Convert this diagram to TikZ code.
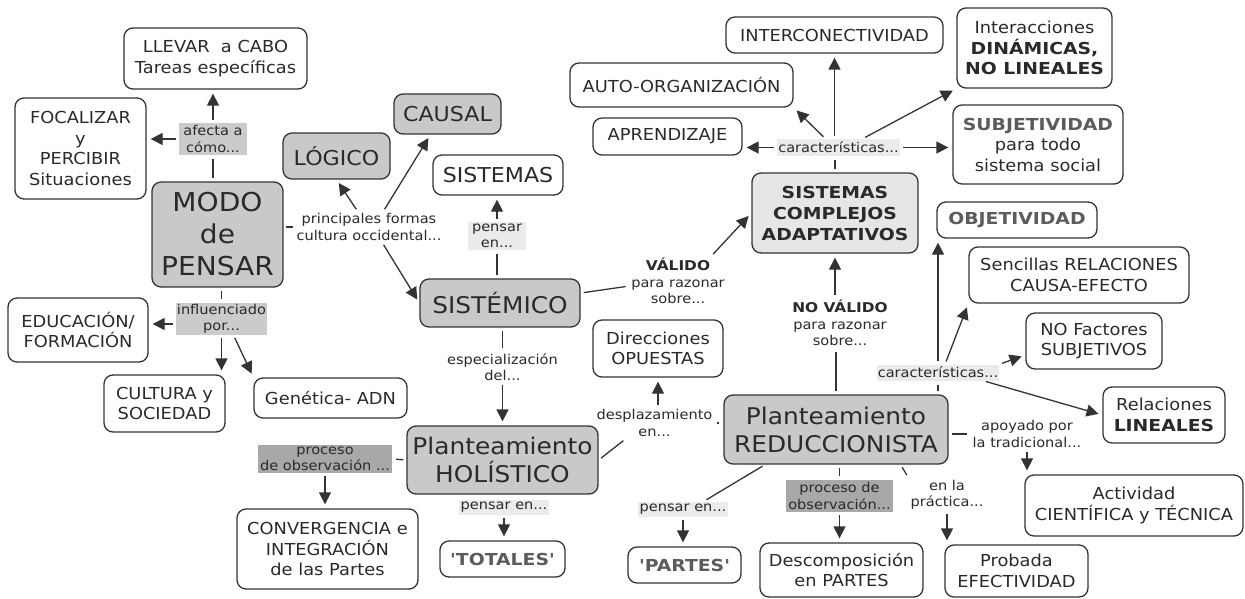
\documentclass[tikz,border=0pt]{standalone}
\usepackage{fontspec}
\setmainfont{DejaVu Sans}[FakeStretch=1.08, BoldFeatures={FakeStretch=1.14}]
\newfontfamily\rawfont{DejaVu Sans}[FakeStretch=1.08, BoldFeatures={FakeStretch=1.14}]
\usetikzlibrary{arrows.meta}
\definecolor{linec}{HTML}{333333}
\definecolor{txt}{HTML}{2A2A2A}
\definecolor{nodegray}{HTML}{C9C9C9}
\definecolor{scagray}{HTML}{E6E6E6}
\definecolor{lablight}{HTML}{EBEBEB}
\definecolor{labmid}{HTML}{CBCBCB}
\definecolor{labdark}{HTML}{A8A8A8}
\definecolor{bgray}{HTML}{5C5C5C}
\tikzset{
  box/.style={draw=linec, line width=1.3pt, rounded corners=9pt, fill=white, align=center, text=txt, inner sep=0pt, font=\fontsize{16.5}{20.5}\selectfont},
  gbox/.style={box, fill=nodegray},
  lab/.style={align=center, text=txt, inner sep=1.5pt, font=\fontsize{13.5}{16.5}\selectfont},
  lk/.style={draw=linec, line width=1.3pt, shorten <=3pt, shorten >=4pt},
  arr/.style={lk, -{Triangle[length=12pt,width=12pt]}},
  f19/.style={font=\fontsize{20.5}{24}\selectfont},
  f23/.style={font=\fontsize{23}{28}\selectfont},
  f26/.style={font=\fontsize{26}{32}\selectfont},
}
\newcommand{\bg}[1]{\textcolor{bgray}{\textbf{#1}}}
\begin{document}
\begin{tikzpicture}[x=1pt,y=-1pt]
\useasboundingbox (0,0) rectangle (1245,599);
% left part
\node[box, minimum width=183pt, minimum height=61pt] (llevar) at (215.5,58.5) {LLEVAR\ \ a CABO\\Tareas específicas};
\node[box, minimum width=131pt, minimum height=101pt] (focal) at (80.5,148.5) {FOCALIZAR\\y\\PERCIBIR\\Situaciones};
\node[lab, fill=labmid, minimum width=68pt, minimum height=32pt, inner sep=0pt] (afecta) at (213,139) {afecta a\\cómo...};
\node[gbox, f26, minimum width=131pt, minimum height=105pt] (modo) at (217.5,234.5) {MODO\\de\\PENSAR};
\node[gbox, f19, minimum width=107pt, minimum height=46pt] (logico) at (336.5,156) {LÓGICO};
\node[gbox, f19, minimum width=107pt, minimum height=40pt] (causal) at (447.5,114) {CAUSAL};
\node[lab] (princ) at (369,227) {principales formas\\cultura occidental...};
\node[box, f19, minimum width=130pt, minimum height=40pt] (sistemas) at (498,175) {SISTEMAS};
\node[lab, fill=lablight, minimum width=58pt, minimum height=28pt, inner sep=0pt] (pensar1) at (497,236) {pensar\\en...};
\node[gbox, f23, minimum width=160pt, minimum height=48pt] (sistemico) at (500,303) {SISTÉMICO};
\node[lab] (valido) at (678,281) {\textbf{VÁLIDO}\\para razonar\\sobre...};
\node[box, fill=scagray, minimum width=166pt, minimum height=80pt, font=\bfseries\fontsize{16.5}{21}\selectfont] (sca) at (835,213) {SISTEMAS\\COMPLEJOS\\ADAPTATIVOS};
\node[lab] (noval) at (840,323) {\textbf{NO VÁLIDO}\\para razonar\\sobre...};
% top right
\node[box, minimum width=217pt, minimum height=36pt] (interc) at (834.5,35) {INTERCONECTIVIDAD};
\node[box, minimum width=223pt, minimum height=44pt] (autoorg) at (681.5,85) {AUTO-ORGANIZACIÓN};
\node[box, minimum width=149pt, minimum height=37pt] (aprend) at (667.5,136.5) {APRENDIZAJE};
\node[lab, fill=lablight, minimum width=123pt, minimum height=17pt, inner sep=0pt] (car1) at (838.5,147.5) {características...};
\node[box, minimum width=155pt, minimum height=80pt] (interacc) at (1034.5,48) {Interacciones\\\textbf{DINÁMICAS,}\\\textbf{NO LINEALES}};
\node[box, minimum width=170pt, minimum height=79pt] (subjet) at (1038,144.5) {\bg{SUBJETIVIDAD}\\para todo\\sistema social};
\node[box, minimum width=160pt, minimum height=36pt] (objet) at (1017,220) {\bg{OBJETIVIDAD}};
\node[box, minimum width=220pt, minimum height=56pt] (sencillas) at (1079,275) {Sencillas RELACIONES\\CAUSA-EFECTO};
\node[box, minimum width=136pt, minimum height=56pt] (nofact) at (1094,341) {NO Factores\\SUBJETIVOS};
\node[box, minimum width=122pt, minimum height=56pt] (relac) at (1164,415) {Relaciones\\\textbf{LINEALES}};
\node[lab, fill=lablight, minimum width=122pt, minimum height=16pt, inner sep=0pt] (car2) at (938,372.5) {características...};
% reduccionista
\node[gbox, f23, minimum width=224pt, minimum height=69pt] (reduc) at (836,429.5) {Planteamiento\\REDUCCIONISTA};
\node[lab] (apoyado) at (1027,434) {apoyado por\\la tradicional...};
\node[box, minimum width=218pt, minimum height=61pt] (activ) at (1134,505.5) {Actividad\\CIENTÍFICA y TÉCNICA};
\node[lab] (practica) at (947,495) {en la\\práctica...};
\node[box, minimum width=143pt, minimum height=52pt] (probada) at (1016.5,571) {Probada\\EFECTIVIDAD};
\node[lab, fill=labdark, minimum width=107pt, minimum height=32pt, inner sep=0pt] (proc2) at (839.5,496) {proceso de\\observación...};
\node[box, minimum width=163pt, minimum height=54pt] (descomp) at (841.5,570) {Descomposición\\en PARTES};
\node[lab, fill=lablight, minimum width=90pt, minimum height=15pt, inner sep=0pt] (pensar3) at (683,509.5) {pensar en...};
\node[box, minimum width=113pt, minimum height=36pt] (partes) at (684.5,565) {\rawfont\bg{'PARTES'}};
% holistico
\node[gbox, f23, minimum width=191pt, minimum height=68pt] (holis) at (502.5,460) {Planteamiento\\HOLÍSTICO};
\node[lab] (espec) at (502.5,367) {especialización\\del...};
\node[lab] (desplaz) at (654.5,423) {desplazamiento\\en...};
\node[box, minimum width=130pt, minimum height=57pt] (direcc) at (658,348.5) {Direcciones\\OPUESTAS};
\node[lab, fill=lablight, minimum width=90pt, minimum height=15pt, inner sep=0pt] (pensar2) at (504,507.5) {pensar en...};
\node[box, minimum width=125pt, minimum height=36pt] (totales) at (502.5,559) {\rawfont\bg{'TOTALES'}};
% bottom left
\node[lab, fill=labmid, minimum width=91pt, minimum height=32pt, inner sep=0pt] (influ) at (221.5,319) {influenciado\\por...};
\node[box, minimum width=140pt, minimum height=64pt] (educ) at (78,330) {EDUCACIÓN/\\FORMACIÓN};
\node[box, minimum width=121pt, minimum height=57pt] (cultura) at (164.5,403.5) {CULTURA y\\SOCIEDAD};
\node[box, minimum width=153pt, minimum height=40pt] (genet) at (330.5,398) {Genética- ADN};
\node[lab, fill=labdark, minimum width=134pt, minimum height=28pt, inner sep=0pt] (proc1) at (325,459) {proceso\\de observación ...};
\node[box, minimum width=181pt, minimum height=80pt] (converg) at (327.5,549) {CONVERGENCIA e\\INTEGRACIÓN\\de las Partes};
% connectors
\draw[lk] (modo.north -| afecta.south) -- (afecta.south);
\draw[arr] (afecta.north) -- (afecta.north |- llevar.south);
\draw[arr] (afecta.west) -- (afecta.west -| focal.east);
\draw[lk, shorten <=2pt, shorten >=2pt] (princ.west -| modo.east) -- (princ.west);
\draw[arr] ([xshift=-11pt]princ.north) -- (logico.south);
\draw[arr] ([xshift=14pt]princ.north) -- ([xshift=-17pt]causal.south);
\draw[arr] ([xshift=13pt]princ.south) -- (sistemico.west);
\draw[lk] (pensar1.south |- sistemico.north) -- (pensar1.south);
\draw[arr] (pensar1.north) -- (pensar1.north |- sistemas.south);
\draw[lk] ([yshift=10pt]sistemico.east) -- ([yshift=-5pt]valido.west);
\draw[arr] ([xshift=33pt]valido.north) -- (sca.west);
\draw[lk] (reduc.north) -- (reduc.north |- noval.south);
\draw[arr] (sca.south |- noval.north) -- (sca.south);
\draw[lk] (sca.north) -- (sca.north |- car1.south);
\draw[arr] (car1.west) -- (car1.west -| aprend.east);
\draw[arr] ([xshift=-13pt]car1.north) -- (autoorg.south east);
\draw[arr] (car1.north -| interc.south) -- (interc.south);
\draw[arr] ([xshift=24pt]car1.north) -- (interacc.south west);
\draw[arr] (car1.east) -- (car1.east -| subjet.west);
\draw[lk] (car2.south |- reduc.north) -- (car2.south);
\draw[arr] (car2.north) -- (car2.north |- objet.south);
\draw[arr] ([xshift=7pt]car2.north) -- (sencillas.south west);
\draw[arr] (car2.north east) -- ([yshift=-14pt]nofact.west);
\draw[arr] ([xshift=45pt]car2.south) -- (relac.west);
\draw[lk] (apoyado.west -| reduc.east) -- (apoyado.west);
\draw[arr] (apoyado.south) -- (apoyado.south |- activ.north);
\draw[lk] ([xshift=-48pt]reduc.south east) -- (practica.north west);
\draw[arr] (practica.south) -- (practica.south |- probada.north);
\draw[lk] (proc2.north |- reduc.south) -- (proc2.north);
\draw[arr] (proc2.south) -- (proc2.south |- descomp.north);
\draw[lk] ([xshift=-71pt]reduc.south) -- ([xshift=20pt]pensar3.north);
\draw[arr] (pensar3.south) -- (pensar3.south |- partes.north);
\draw[lk] (espec.north |- sistemico.south) -- (espec.north);
\draw[arr] (espec.south) -- (espec.south |- holis.north);
\draw[lk] (holis.east) -- ([xshift=-28pt]desplaz.south);
\draw[lk] (desplaz.east) -- (desplaz.east -| reduc.west);
\draw[arr] (direcc.south |- desplaz.north) -- (direcc.south);
\draw[arr] (pensar2.south) -- (pensar2.south |- totales.north);
\draw[lk] (holis.west) -- (proc1.east);
\draw[arr] (proc1.south) -- (proc1.south |- converg.north);
\draw[lk] (influ.north |- modo.south) -- (influ.north);
\draw[arr] ([yshift=-5pt]influ.west) -- ([yshift=-5pt]influ.west -| educ.east);
\draw[arr] (influ.south) -- (influ.south |- cultura.north);
\draw[arr] ([xshift=12pt]influ.south) -- (genet.north west);
\end{tikzpicture}
\end{document}
